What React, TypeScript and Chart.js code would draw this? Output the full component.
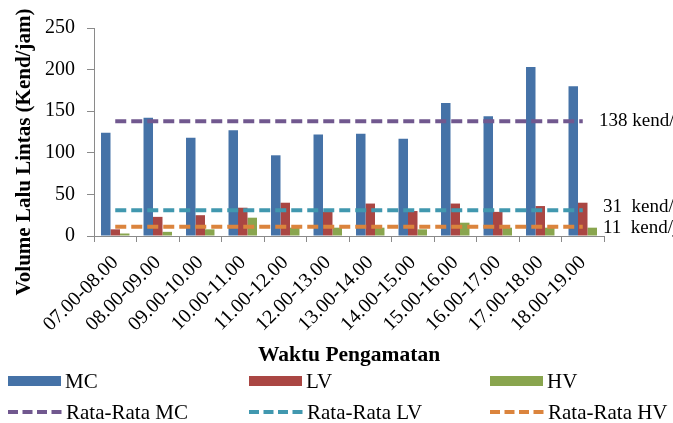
import React, { useEffect, useRef } from 'react';
import { Chart, registerables } from 'chart.js';

Chart.register(...registerables);

const categories = [
  '07.00-08.00', '08.00-09.00', '09.00-10.00', '10.00-11.00', '11.00-12.00', '12.00-13.00',
  '13.00-14.00', '14.00-15.00', '15.00-16.00', '16.00-17.00', '17.00-18.00', '18.00-19.00',
];
const mcValues = [124, 142, 118, 127, 97, 122, 123, 117, 160, 144, 203, 180];
const lvValues = [8, 23, 25, 34, 40, 29, 39, 30, 39, 29, 36, 40];
const hvValues = [3, 5, 8, 22, 10, 10, 10, 8, 16, 10, 10, 10];
const avgMC = [138, 138, 138, 138, 138, 138, 138, 138, 138, 138, 138, 138];
const avgLV = [31, 31, 31, 31, 31, 31, 31, 31, 31, 31, 31, 31];
const avgHV = [11, 11, 11, 11, 11, 11, 11, 11, 11, 11, 11, 11];
const avgLabels = ['138 kend/jam', '31  kend/jam', '11  kend/jam'];
const yTicks = [0, 50, 100, 150, 200, 250];

const C_MC = '#4572A7';
const C_LV = '#AA4643';
const C_HV = '#89A54E';
const C_AMC = '#71588F';
const C_ALV = '#4198AF';
const C_AHV = '#DB843D';

const SERIF = '"Liberation Serif", "Times New Roman", serif';

const customPlugin = {
  id: 'customText',
  afterDraw(chart: any) {
    const ctx = chart.ctx as CanvasRenderingContext2D;
    const area = chart.chartArea;
    const ys = chart.scales.y;
    ctx.save();
    ctx.fillStyle = '#000';

    // average labels on the right
    ctx.font = `19px ${SERIF}`;
    ctx.textAlign = 'left';
    ctx.textBaseline = 'middle';
    const avgs = [avgMC[0], avgLV[0], avgHV[0]];
    const dy = [0, -3, 1];
    const dx = [-5, -1, -1];
    avgs.forEach((v, i) => {
      ctx.fillText(avgLabels[i], area.right + dx[i], ys.getPixelForValue(v) + dy[i]);
    });

    // y title
    ctx.save();
    ctx.font = `bold 21px ${SERIF}`;
    ctx.translate(25, 152);
    ctx.rotate(-Math.PI / 2);
    ctx.textAlign = 'center';
    ctx.textBaseline = 'middle';
    ctx.fillText('Volume Lalu Lintas (Kend/jam)', 0, 0);
    ctx.restore();

    // x title
    ctx.font = `bold 21.5px ${SERIF}`;
    ctx.textAlign = 'center';
    ctx.textBaseline = 'alphabetic';
    ctx.fillText('Waktu Pengamatan', (area.left + area.right) / 2, 361);

    // legend
    const cols = [8, 249, 490];
    const boxItems = [
      { label: 'MC', color: C_MC },
      { label: 'LV', color: C_LV },
      { label: 'HV', color: C_HV },
    ];
    const lineItems = [
      { label: 'Rata-Rata MC', color: C_AMC },
      { label: 'Rata-Rata LV', color: C_ALV },
      { label: 'Rata-Rata HV', color: C_AHV },
    ];
    ctx.font = `21px ${SERIF}`;
    ctx.textAlign = 'left';
    ctx.textBaseline = 'alphabetic';
    boxItems.forEach((it, i) => {
      const x = cols[i];
      ctx.fillStyle = it.color;
      ctx.fillRect(x, 376, 53, 10);
      ctx.fillStyle = '#000';
      ctx.fillText(it.label, x + 57, 388);
    });
    lineItems.forEach((it, i) => {
      const x = cols[i];
      ctx.strokeStyle = it.color;
      ctx.lineWidth = 4;
      ctx.setLineDash([10, 4.5]);
      ctx.beginPath();
      ctx.moveTo(x, 412);
      ctx.lineTo(x + 55, 412);
      ctx.stroke();
      ctx.setLineDash([]);
      ctx.fillStyle = '#000';
      ctx.fillText(it.label, x + 58, 419);
    });
    ctx.restore();
  },
};

export default function App() {
  const ref = useRef<HTMLCanvasElement | null>(null);
  useEffect(() => {
    if (!ref.current) return;
    const lineDs = (label: string, data: number[], color: string) => ({
      type: 'line' as const,
      label,
      data,
      borderColor: color,
      backgroundColor: color,
      borderWidth: 4,
      borderDash: [11, 5],
      pointRadius: 0,
      fill: false,
      order: 0,
    });
    const barDs = (label: string, data: number[], color: string) => ({
      type: 'bar' as const,
      label,
      data,
      backgroundColor: color,
      borderWidth: 0,
      categoryPercentage: 0.67,
      barPercentage: 1,
      order: 1,
    });
    const chart = new Chart(ref.current, {
      type: 'bar',
      data: {
        labels: categories,
        datasets: [
          barDs('MC', mcValues, C_MC),
          barDs('LV', lvValues, C_LV),
          barDs('HV', hvValues, C_HV),
          lineDs('Rata-Rata MC', avgMC, C_AMC),
          lineDs('Rata-Rata LV', avgLV, C_ALV),
          lineDs('Rata-Rata HV', avgHV, C_AHV),
        ] as any,
      },
      options: {
        animation: false,
        responsive: true,
        maintainAspectRatio: false,
        layout: { padding: { left: 0, right: 69, top: 28, bottom: 0 } },
        plugins: {
          legend: { display: false },
          tooltip: { enabled: false },
        },
        scales: {
          x: {
            offset: true,
            grid: { offset: true, drawOnChartArea: false, tickLength: 6, color: '#8a8a8a' },
            border: { color: '#8a8a8a' },
            ticks: {
              autoSkip: false,
              maxRotation: 45,
              minRotation: 45,
              padding: 9,
              color: '#000',
              font: { family: SERIF, size: 20 },
            },
            afterFit: (scale: any) => { scale.height = 187; },
          },
          y: {
            min: 0,
            max: 250,
            afterBuildTicks: (scale: any) => { scale.ticks = yTicks.map((v) => ({ value: v })); },
            grid: { drawOnChartArea: false, tickLength: 7, color: '#8a8a8a' },
            border: { color: '#8a8a8a' },
            ticks: {
              padding: 12,
              color: '#000',
              font: { family: SERIF, size: 20 },
            },
            afterFit: (scale: any) => { scale.width = 94; },
          },
        },
      } as any,
      plugins: [customPlugin],
    });
    return () => chart.destroy();
  }, []);
  return (
    <div style={{ position: 'absolute', left: 0, top: 0, width: 673, height: 423 }}>
      <canvas ref={ref} />
    </div>
  );
}
